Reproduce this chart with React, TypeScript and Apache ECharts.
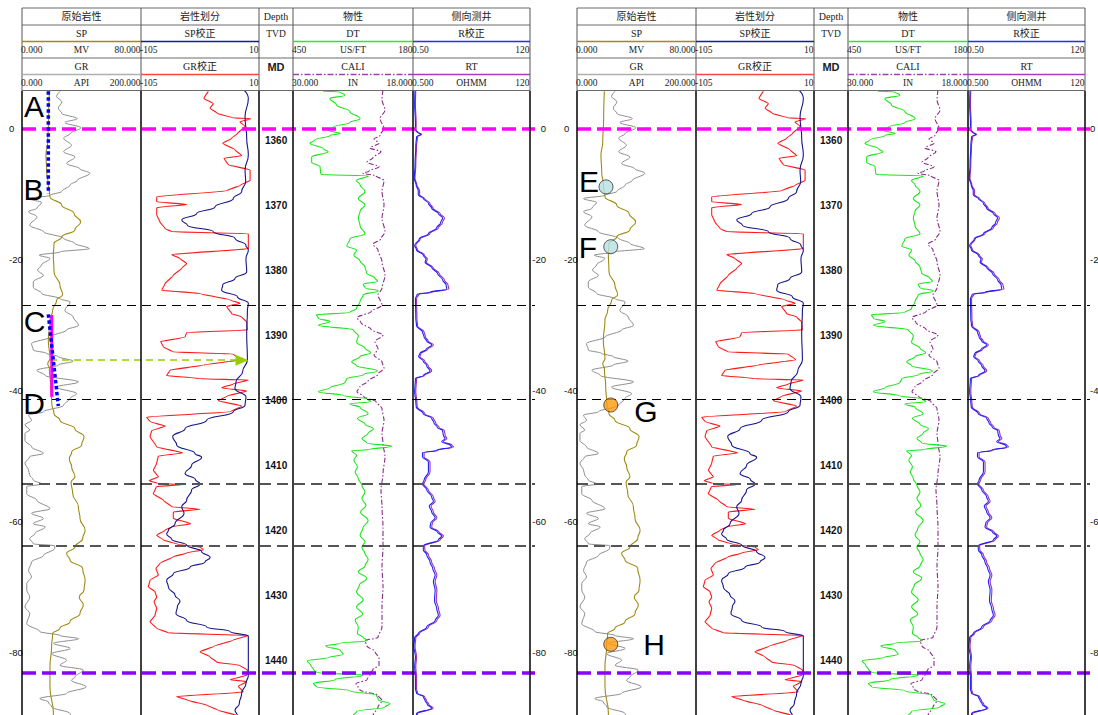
import React, { useEffect, useRef } from "react";
import * as echarts from "echarts";

// ---------------- well-log curves: [depth (m), value] ----------------
const GR = [[1352.5,64],[1353.3,58],[1354.1,67],[1355.1,61],[1355.9,67],[1356.7,93],[1357.3,72],[1358.1,99],[1359.0,81],[1359.7,70],[1360.8,83],[1361.8,70],[1362.6,89],[1363.6,75],[1364.4,97],[1365.1,114],[1366.2,93],[1366.9,81],[1367.9,67],[1368.5,47],[1369.0,11],[1369.6,33],[1370.5,25],[1371.0,11],[1371.8,25],[1373.1,13],[1374.1,36],[1375.1,70],[1375.9,89],[1376.7,113],[1377.2,64],[1377.7,29],[1378.2,47],[1379.2,33],[1380.0,26],[1380.8,36],[1381.8,19],[1382.6,19],[1383.6,33],[1384.4,64],[1384.9,81],[1386.2,72],[1387.2,86],[1388.5,95],[1389.2,75],[1390.3,47],[1391.3,16],[1392.3,19],[1392.8,41],[1393.3,61],[1394.0,86],[1394.6,61],[1395.4,25],[1396.2,39],[1397.2,95],[1398.0,58],[1399.0,92],[1399.7,81],[1400.8,70],[1401.8,36],[1402.3,11],[1403.1,16],[1403.8,5],[1404.6,13],[1405.1,5],[1406.2,5],[1407.2,16],[1408.2,36],[1408.7,13],[1409.7,5],[1410.8,11],[1411.5,13],[1412.3,19],[1412.9,33],[1413.3,8],[1414.4,8],[1415.4,25],[1416.7,47],[1417.4,16],[1418.2,36],[1419.0,19],[1419.5,39],[1420.5,22],[1421.3,13],[1422.1,19],[1422.4,55],[1422.8,55],[1423.9,36],[1424.9,16],[1426.2,11],[1427.2,16],[1428.2,8],[1429.2,8],[1430.3,13],[1431.8,5],[1432.8,13],[1434.4,8],[1435.6,30],[1436.2,64],[1436.7,95],[1437.4,53],[1438.2,81],[1439.0,50],[1440.0,75],[1440.8,64],[1441.5,103],[1442.6,89],[1443.1,83],[1444.1,108],[1445.1,75],[1445.9,30],[1446.4,44],[1447.2,50],[1448.2,81],[1449.2,90]];

const SP = [[1352.5,18.4],[1356.7,17.9],[1360.3,17.3],[1362.3,16.1],[1364.9,16.6],[1366.9,17.7],[1368.7,18.8],[1370.0,26.7],[1371.3,35.0],[1372.6,39.4],[1373.8,35.6],[1374.9,26.7],[1375.9,21.5],[1377.7,21.1],[1380.3,21.5],[1382.3,25.5],[1383.8,27.3],[1384.6,23.3],[1386.2,20.6],[1387.7,18.8],[1390.8,17.7],[1393.6,18.8],[1394.4,17.3],[1395.1,18.4],[1398.0,19.3],[1400.5,20.0],[1402.1,21.5],[1403.1,25.5],[1404.4,35.6],[1405.6,41.7],[1406.9,40.1],[1408.0,33.4],[1409.0,31.8],[1410.3,33.4],[1411.8,35.6],[1412.6,33.0],[1414.4,34.1],[1416.4,37.9],[1418.2,39.0],[1420.0,42.4],[1421.3,40.8],[1422.6,35.6],[1423.6,30.0],[1424.6,32.3],[1425.9,40.8],[1427.7,42.4],[1429.2,41.7],[1430.3,38.5],[1431.5,41.2],[1432.8,39.0],[1434.1,32.3],[1435.1,25.5],[1435.9,20.6],[1437.9,19.9],[1441.0,18.8],[1444.1,18.8],[1448.2,21.1],[1449.2,21.5]];

const SP_CORR = [[1352.3,-4.6],[1353.6,-0.4],[1356.4,-3.6],[1359.7,-2.0],[1362.3,-0.4],[1364.6,-3.6],[1366.4,-3.0],[1367.9,-6.9],[1369.0,-15.0],[1370.3,-32.9],[1371.3,-50.7],[1372.3,-65.3],[1373.1,-59.8],[1374.1,-34.5],[1375.1,-13.4],[1376.2,-2.7],[1376.9,-0.4],[1378.2,-2.7],[1380.3,-2.0],[1381.3,-13.4],[1382.3,-25.4],[1383.1,-26.4],[1384.1,-11.1],[1385.1,-0.4],[1386.2,-1.3],[1389.7,-2.0],[1393.8,-1.3],[1395.6,-5.9],[1397.2,-12.4],[1398.2,-13.4],[1399.5,-2.7],[1400.8,-3.6],[1401.8,-15.0],[1403.1,-41.0],[1404.4,-62.1],[1405.6,-74.1],[1406.9,-70.2],[1408.2,-52.4],[1408.8,-45.9],[1410.0,-55.6],[1411.3,-62.1],[1412.2,-52.0],[1412.9,-47.5],[1413.8,-55.6],[1415.4,-60.5],[1416.4,-65.3],[1417.4,-63.1],[1419.0,-71.8],[1420.0,-78.3],[1420.6,-80.0],[1421.4,-75.1],[1422.3,-60.5],[1423.3,-45.9],[1424.2,-37.7],[1424.9,-42.6],[1425.7,-57.2],[1426.7,-73.5],[1427.7,-80.0],[1428.8,-78.3],[1430.0,-71.8],[1430.9,-67.0],[1431.8,-69.6],[1432.8,-70.9],[1433.9,-60.5],[1434.9,-41.0],[1435.6,-18.2],[1436.3,-0.4],[1442.3,-0.4],[1443.6,-2.7],[1445.1,-6.9],[1446.7,-9.2],[1447.7,-13.4],[1448.5,-11.1],[1449.2,-12.0]];

const GR_CORR = [[1352.5,-39.4],[1353.6,-43.6],[1354.4,-34.5],[1355.1,-37.7],[1355.9,-30.6],[1356.6,-15.0],[1356.7,1.9],[1357.2,-8.5],[1357.9,-3.6],[1359.0,-11.0],[1359.7,-16.6],[1360.5,-25.4],[1361.5,-13.4],[1362.4,-6.9],[1362.8,-24.1],[1363.8,-19.9],[1364.6,1.3],[1366.2,1.3],[1366.9,-7.8],[1367.8,-21.5],[1368.7,-89.7],[1369.5,-89.7],[1369.9,-60.5],[1370.4,-89.7],[1371.5,-89.7],[1372.6,-86.5],[1373.6,-81.6],[1374.1,-75.1],[1374.4,-0.4],[1376.7,-0.4],[1377.6,-75.1],[1378.2,-67.0],[1379.0,-60.5],[1379.7,-65.3],[1380.8,-73.5],[1382.1,-81.6],[1383.1,-84.8],[1383.6,-47.5],[1384.6,-18.2],[1385.1,-8.5],[1385.6,-21.5],[1386.7,-16.6],[1387.2,-6.9],[1388.0,-2.0],[1389.2,-1.3],[1389.6,-60.5],[1390.3,-62.1],[1391.0,-85.8],[1391.8,-83.2],[1392.6,-73.5],[1392.9,-15.0],[1393.8,-7.8],[1394.6,-44.2],[1395.4,-76.7],[1396.2,-80.0],[1396.7,-47.5],[1396.9,-0.4],[1397.5,-15.0],[1398.1,-26.4],[1398.6,-2.0],[1399.4,-21.5],[1400.1,-29.6],[1400.9,-6.9],[1401.8,-18.2],[1402.6,-99.5],[1403.3,-96.2],[1404.0,-81.6],[1404.7,-94.6],[1405.6,-96.2],[1407.2,-89.7],[1408.1,-64.4],[1408.6,-88.1],[1409.7,-89.7],[1410.8,-92.9],[1411.8,-88.1],[1412.4,-97.0],[1412.8,-89.0],[1413.0,-65.3],[1413.3,-90.0],[1414.4,-93.0],[1415.4,-83.2],[1416.4,-75.1],[1416.8,-47.5],[1417.2,-73.5],[1418.2,-73.5],[1419.0,-56.6],[1419.5,-75.1],[1420.0,-81.6],[1420.8,-89.7],[1421.5,-83.2],[1422.2,-68.6],[1422.6,-47.5],[1423.0,-44.2],[1423.5,-60.5],[1424.1,-73.5],[1425.1,-86.5],[1425.9,-90.4],[1426.9,-88.1],[1427.7,-96.2],[1428.7,-97.8],[1429.5,-91.3],[1430.3,-89.7],[1431.0,-92.3],[1432.0,-89.7],[1433.1,-91.3],[1434.1,-96.2],[1435.1,-89.7],[1435.8,-78.3],[1436.2,-0.4],[1436.9,-15.0],[1437.9,-34.5],[1438.7,-47.5],[1439.5,-37.7],[1440.3,-31.2],[1440.8,-8.5],[1441.5,-1.3],[1442.3,-2.0],[1443.0,-18.2],[1443.3,-2.0],[1444.0,-10.1],[1444.9,-5.3],[1445.6,-70.2],[1446.2,-58.8],[1446.9,-41.0],[1447.7,-29.6],[1448.5,-11.8],[1449.2,-8.0]];

const DT = [[1352.5,382],[1352.6,344],[1353.1,333],[1353.6,367],[1354.6,352],[1355.6,322],[1356.7,299],[1357.3,322],[1358.0,359],[1358.5,371],[1359.0,344],[1359.3,367],[1360.0,401],[1360.5,412],[1361.3,382],[1361.8,371],[1362.6,408],[1363.4,408],[1364.1,389],[1365.0,388],[1365.3,386],[1365.5,280],[1366.2,307],[1366.9,299],[1367.9,288],[1369.0,303],[1370.0,288],[1370.9,299],[1372.0,303],[1373.2,299],[1374.4,288],[1375.2,322],[1376.3,329],[1376.9,307],[1377.7,313],[1378.6,299],[1379.5,288],[1380.5,284],[1381.2,266],[1381.7,260],[1382.2,292],[1382.7,288],[1383.2,258],[1383.8,292],[1384.8,299],[1385.9,307],[1386.5,322],[1386.9,397],[1387.4,393],[1387.9,367],[1388.5,393],[1389.2,314],[1390.1,303],[1391.1,307],[1392.0,288],[1392.7,275],[1393.3,299],[1394.1,318],[1394.7,307],[1395.5,260],[1396.1,292],[1396.7,329],[1397.3,333],[1398.1,367],[1398.7,393],[1399.3,337],[1399.8,284],[1400.2,275],[1400.6,322],[1401.1,299],[1402.1,281],[1402.8,305],[1403.7,288],[1404.4,269],[1405.1,281],[1405.9,295],[1406.6,284],[1407.1,228],[1407.6,277],[1407.8,318],[1408.5,307],[1409.2,313],[1410.3,305],[1411.0,310],[1412.1,303],[1413.1,295],[1414.1,288],[1415.1,295],[1416.2,286],[1417.2,298],[1418.5,281],[1419.7,293],[1420.8,299],[1421.8,288],[1422.6,295],[1423.6,288],[1424.5,281],[1425.5,288],[1426.4,303],[1427.4,284],[1428.5,301],[1429.5,307],[1430.7,292],[1431.8,307],[1432.9,293],[1433.8,310],[1434.9,303],[1435.9,305],[1436.5,292],[1437.0,283],[1437.4,344],[1437.8,376],[1438.5,343],[1439.1,337],[1439.6,370],[1440.1,418],[1440.8,410],[1441.4,404],[1441.9,397],[1442.3,292],[1443.0,356],[1443.6,404],[1444.1,397],[1444.7,322],[1445.4,262],[1446.1,258],[1446.7,232],[1447.2,243],[1447.9,307],[1448.5,314],[1449.2,320]];

const CALI = [[1352.3,21.0],[1353.8,21.1],[1355.4,20.8],[1356.7,21.3],[1358.2,20.9],[1359.3,21.3],[1359.8,21.9],[1360.5,21.4],[1361.2,22.3],[1361.8,21.2],[1362.7,22.0],[1363.4,22.6],[1364.1,21.4],[1364.8,22.4],[1365.1,23.0],[1365.5,21.7],[1366.2,20.9],[1367.9,21.1],[1370.0,20.9],[1372.0,21.1],[1374.1,20.8],[1375.2,21.2],[1376.0,22.0],[1376.9,21.5],[1378.7,21.1],[1380.8,20.8],[1382.8,21.1],[1383.8,21.5],[1385.4,21.1],[1386.4,22.2],[1387.3,23.6],[1388.1,23.2],[1389.1,22.2],[1390.0,21.0],[1391.0,21.8],[1392.1,21.5],[1393.1,21.9],[1394.1,21.1],[1395.1,20.9],[1396.0,21.5],[1397.1,22.5],[1397.9,23.3],[1398.7,23.6],[1399.5,22.9],[1400.2,21.7],[1401.3,21.1],[1403.1,20.9],[1405.1,21.1],[1406.7,21.0],[1408.7,20.8],[1411.3,21.0],[1413.8,21.2],[1416.4,21.1],[1419.5,21.0],[1422.6,21.0],[1425.6,21.1],[1428.7,21.0],[1431.8,21.1],[1434.9,21.1],[1436.5,21.5],[1437.0,22.8],[1437.8,22.6],[1438.7,21.8],[1439.7,21.4],[1440.8,21.4],[1441.4,22.0],[1442.2,22.3],[1443.0,22.6],[1443.6,23.7],[1444.6,23.3],[1445.4,21.5],[1446.2,21.1],[1447.2,21.5],[1448.5,22.0],[1449.2,22.2]];

const R_CORR = [[1352.3,0.55],[1354.6,0.54],[1357.2,0.56],[1358.5,0.56],[1358.8,0.61],[1359.1,0.72],[1359.5,0.59],[1360.8,0.57],[1363.8,0.55],[1365.9,0.53],[1366.9,0.58],[1367.8,0.64],[1368.4,0.64],[1369.0,0.81],[1369.7,1.03],[1370.5,1.20],[1371.3,1.64],[1372.0,2.00],[1372.7,1.82],[1373.5,1.52],[1374.4,1.03],[1375.2,0.67],[1376.2,0.54],[1376.9,0.59],[1377.7,0.81],[1378.3,0.92],[1378.8,0.88],[1379.6,1.20],[1380.5,1.57],[1381.5,2.00],[1382.3,2.36],[1382.9,2.43],[1383.4,1.11],[1383.7,0.61],[1384.4,0.56],[1387.4,0.57],[1388.6,0.59],[1389.5,0.78],[1390.3,0.84],[1390.9,0.95],[1391.5,1.20],[1392.2,0.92],[1392.8,0.69],[1393.3,0.65],[1394.0,0.81],[1394.7,0.95],[1395.5,1.11],[1396.2,0.81],[1396.7,0.56],[1398.7,0.54],[1400.3,0.57],[1401.0,0.58],[1402.1,0.81],[1402.8,1.20],[1403.5,1.34],[1404.2,1.57],[1404.7,2.00],[1405.4,2.07],[1405.9,2.24],[1406.4,1.92],[1406.9,2.83],[1407.2,3.06],[1407.7,1.52],[1408.1,0.78],[1408.7,0.78],[1409.5,1.03],[1411.0,1.03],[1412.3,0.84],[1412.9,0.78],[1413.8,0.95],[1414.9,1.20],[1415.6,1.30],[1416.3,1.07],[1417.2,1.20],[1418.1,1.41],[1418.9,1.15],[1419.5,1.11],[1420.3,1.57],[1420.9,1.92],[1421.5,1.64],[1422.4,0.81],[1423.0,0.81],[1423.8,0.95],[1424.9,1.11],[1425.9,1.26],[1426.9,1.41],[1427.9,1.30],[1429.2,1.41],[1430.8,1.37],[1432.1,1.52],[1433.1,1.64],[1433.9,1.41],[1434.9,0.95],[1435.9,0.64],[1436.5,0.54],[1437.9,0.52],[1439.5,0.56],[1441.0,0.54],[1442.6,0.56],[1444.4,0.56],[1445.1,0.59],[1445.6,0.81],[1446.2,0.88],[1446.8,0.98],[1447.4,1.20],[1448.2,0.59],[1449.2,0.57]];

const RT = [[1352.3,0.57],[1354.6,0.56],[1357.2,0.58],[1358.5,0.58],[1358.8,0.63],[1359.1,0.75],[1359.5,0.62],[1360.8,0.59],[1363.8,0.57],[1365.9,0.55],[1366.9,0.60],[1367.8,0.68],[1368.4,0.68],[1369.0,0.86],[1369.7,1.10],[1370.5,1.28],[1371.3,1.78],[1372.0,2.18],[1372.7,1.98],[1373.5,1.64],[1374.4,1.10],[1375.2,0.70],[1376.2,0.57],[1376.9,0.62],[1377.7,0.86],[1378.3,0.98],[1378.8,0.93],[1379.6,1.28],[1380.5,1.70],[1381.5,2.17],[1382.3,2.58],[1382.9,2.68],[1383.4,1.25],[1383.7,0.66],[1384.4,0.59],[1387.4,0.60],[1388.6,0.62],[1389.5,0.84],[1390.3,0.90],[1390.9,1.02],[1391.5,1.30],[1392.2,0.99],[1392.8,0.73],[1393.3,0.69],[1394.0,0.87],[1394.7,1.02],[1395.5,1.20],[1396.2,0.86],[1396.7,0.59],[1398.7,0.57],[1400.3,0.60],[1401.0,0.61],[1402.1,0.87],[1402.8,1.30],[1403.5,1.45],[1404.2,1.70],[1404.7,2.17],[1405.4,2.25],[1405.9,2.44],[1406.4,2.08],[1406.9,3.08],[1407.2,3.33],[1407.7,1.65],[1408.1,0.84],[1408.7,0.84],[1409.5,1.11],[1411.0,1.11],[1412.3,0.90],[1412.9,0.83],[1413.8,1.02],[1414.9,1.30],[1415.6,1.41],[1416.3,1.16],[1417.2,1.30],[1418.1,1.53],[1418.9,1.24],[1419.5,1.20],[1420.3,1.70],[1420.9,2.08],[1421.5,1.78],[1422.4,0.86],[1423.0,0.87],[1423.8,1.03],[1424.9,1.20],[1425.9,1.37],[1426.9,1.53],[1427.9,1.41],[1429.2,1.53],[1430.8,1.49],[1432.1,1.65],[1433.1,1.78],[1433.9,1.53],[1434.9,1.03],[1435.9,0.68],[1436.5,0.57],[1437.9,0.55],[1439.5,0.59],[1441.0,0.57],[1442.6,0.59],[1444.4,0.59],[1445.1,0.62],[1445.6,0.86],[1446.2,0.94],[1446.8,1.05],[1447.4,1.28],[1448.2,0.62],[1449.2,0.60]];

// ---------------- depth ranges / markers ----------------
const DEPTH_MIN = 1352.45;
const DEPTH_MAX = 1449.2;
const REL_MIN = -90.4;
const REL_MAX = 5.81;
const MARKER_DEPTHS = [1358.3, 1385.37, 1399.83, 1412.9, 1422.44, 1441.98];
const MARKER_KINDS = ["magenta", "black", "black", "gray", "gray", "purple"];

// ---------------- annotations ----------------
const AB_LINE = [[1352.5, 17.7], [1368.2, 17.7]]; // [depth, SP]
const CD_SOLID = [[1386.9, 20.0], [1399.5, 20.0]];
const CD_DOTTED = [[1386.8, 17.7], [1400.9, 24.4]];
const ARROW = { depth: 1393.85, from: 0.0546, to: 0.4288 }; // fraction of panel width
const CIRCLE_NAMES = ["E", "F", "G", "H"];
const CIRCLE_DEPTHS = [1367.2, 1376.4, 1400.75, 1437.56];
const CIRCLE_SP = [19.5, 22.7, 22.7, 22.7];
const CIRCLE_COLORS = ["#b6e0e3", "#b6e0e3", "#ff9a0a", "#ff9a0a"];

// header texts
const TRACK_TITLES = ["原始岩性", "岩性划分", "Depth", "物性", "侧向测井"];

const COLORS = {
  SP: "#a08c14",
  GR: "#8e8e8e",
  SPC: "#14148c",
  GRC: "#ff1a1a",
  DT: "#1ee61e",
  CALI: "#8a2a8a",
  RC: "#2020ff",
  RT: "#9a34b0",
};

const HEAD_TOP = [
  { col: 0, name: "SP", l: "0.000", u: "MV", r: "80.000", color: COLORS.SP },
  { col: 1, name: "SP校正", l: "-105", u: "", r: "10", color: "#1a1aa0" },
  { col: 3, name: "DT", l: "450", u: "US/FT", r: "180", color: "#22ee22" },
  { col: 4, name: "R校正", l: "0.50", u: "", r: "120", color: "#2a2aff" },
];
const HEAD_BOTTOM = [
  { col: 0, name: "GR", l: "0.000", u: "API", r: "200.000", color: "#b0b0b0" },
  { col: 1, name: "GR校正", l: "-105", u: "", r: "10", color: "#ff4444" },
  { col: 3, name: "CALI", l: "30.000", u: "IN", r: "18.000", color: "#a040b0", dash: true },
  { col: 4, name: "RT", l: "0.500", u: "OHMM", r: "120", color: "#a040c0" },
];

// ---------------- layout ----------------
const PANEL_X = [22, 577];
const EDGES = [0, 119, 237, 271, 391, 508];
const TOP = 91;
const H = 629;
const SERIF = "'Liberation Serif','Noto Sans CJK SC',serif";
const SANS = "'Liberation Sans',Arial,sans-serif";

const toXY = (arr: number[][]) => arr.map(([d, v]) => [v, d]);

function headerGraphics(x0: number) {
  const els: any[] = [];
  const line = (x1: number, y1: number, x2: number, y2: number, stroke: string, lw: number, dash?: number[]) =>
    els.push({ type: "line", silent: true, z: 10, shape: { x1, y1, x2, y2 }, style: { stroke, lineWidth: lw, lineDash: dash } });
  const text = (x: number, y: number, t: string, align: string, size = 9.5, family = SERIF, weight = "normal") =>
    els.push({
      type: "text", silent: true, z: 10, x, y,
      style: { text: t, fill: "#222", fontSize: size, fontFamily: family, fontWeight: weight, textAlign: align, textVerticalAlign: "middle", align, verticalAlign: "middle" },
    });
  const W = EDGES[5];
  [8, 25, 58, 90.5].forEach((y) => line(x0, y, x0 + W, y, "#6a6a6a", 1));
  EDGES.forEach((e) => line(x0 + e, 8, x0 + e, 91, "#555", 1));
  TRACK_TITLES.forEach((t, i) => text(x0 + (EDGES[i] + EDGES[i + 1]) / 2, 16.5, t, "center", 10));
  const rows = [
    { items: HEAD_TOP, yName: 33.5, yLine: 41.5, yScale: 49.5 },
    { items: HEAD_BOTTOM, yName: 66.5, yLine: 74.5, yScale: 82.5 },
  ];
  rows.forEach((row) => {
    row.items.forEach((it: any) => {
      const a = x0 + EDGES[it.col];
      const b = x0 + EDGES[it.col + 1];
      text((a + b) / 2, row.yName, it.name, "center", 10);
      line(a, row.yLine, b, row.yLine, it.color, 1.6, it.dash ? [6, 2, 1.5, 2] : undefined);
      text(a - 1, row.yScale, it.l, "left");
      if (it.u) text((a + b) / 2, row.yScale, it.u, "center");
      text(b - 0.5, row.yScale, it.r, "right");
    });
  });
  const dc = x0 + (EDGES[2] + EDGES[3]) / 2;
  text(dc, 33.5, "TVD", "center", 9.5);
  text(dc, 66.5, "MD", "center", 11, SANS, "bold");
  // track borders in data area
  EDGES.forEach((e) => line(x0 + e, 91, x0 + e, 715, "#000", 1.5));
  return els;
}

function letter(x: number, y: number, t: string) {
  return {
    type: "text", silent: true, z: 100, x, y,
    style: { text: t, fill: "#000", fontSize: 30, fontFamily: SANS, textAlign: "center", textVerticalAlign: "middle", align: "center", verticalAlign: "middle" },
  };
}

function buildOption() {
  const grids: any[] = [];
  const xAxes: any[] = [];
  const yAxes: any[] = [];
  const series: any[] = [];
  const addX = (o: any) => { xAxes.push({ type: "value", show: false, ...o }); return xAxes.length - 1; };
  const addY = (o: any) => { yAxes.push(o); return yAxes.length - 1; };
  const depthY = (g: number) => addY({ type: "value", gridIndex: g, min: DEPTH_MIN, max: DEPTH_MAX, inverse: true, show: false });
  const relFmt = (v: number) => { const r = Math.round(v); return Math.abs(v - r) < 1e-6 && r % 20 === 0 ? String(r === 0 ? 0 : r) : ""; };
  const relY = (g: number, position: string, margin: number, align: string) => addY({
    type: "value", gridIndex: g, position, min: REL_MIN, max: REL_MAX, splitNumber: 5,
    axisLine: { show: false }, axisTick: { show: false }, splitLine: { show: false },
    axisLabel: { show: true, margin, align, fontSize: 9.5, color: "#111", fontFamily: SANS, backgroundColor: "#fff", padding: [1, 1], formatter: relFmt },
  });
  const curve = (data: number[][], xi: number, yi: number, color: string, width: number, smooth: any, type: any = "solid") => series.push({
    type: "line", data: toXY(data), xAxisIndex: xi, yAxisIndex: yi, symbol: "none", showSymbol: false, silent: true,
    smooth, smoothMonotone: "y", lineStyle: { color, width, type }, z: 2,
  });
  const lineStyles: any = {
    magenta: { color: "#ff00ff", width: 3.5, type: [14, 6] },
    purple: { color: "#8a00ff", width: 3.5, type: [14, 6] },
    black: { color: "#000", width: 1, type: [9, 6] },
    gray: { color: "#555", width: 1.8, type: [11, 6] },
  };
  const PANEL_W = 513;

  PANEL_X.forEach((x0, p) => {
    const base = p * 6;
    for (let k = 0; k < 5; k++) {
      grids.push({ left: x0 + EDGES[k], top: TOP, width: EDGES[k + 1] - EDGES[k], height: H, show: false, outerBoundsMode: "none", containLabel: false });
    }
    grids.push({ left: x0, top: TOP, width: PANEL_W, height: H, show: false, outerBoundsMode: "none", containLabel: false });

    const xGR = addX({ gridIndex: base, min: 0, max: 200 });
    const xSP = addX({ gridIndex: base, min: 0, max: 80 });
    const xC2 = addX({ gridIndex: base + 1, min: -105, max: 10 });
    addX({ gridIndex: base + 2, min: 0, max: 1 });
    const xDT = addX({ gridIndex: base + 3, min: 180, max: 450, inverse: true });
    const xCA = addX({ gridIndex: base + 3, min: 18, max: 30, inverse: true });
    const xR = addX({ type: "log", gridIndex: base + 4, min: 0.5, max: 120, logBase: 10 });
    const xO = addX({ gridIndex: base + 5, min: 0, max: 1 });

    const y1 = depthY(base);
    const y2 = depthY(base + 1);
    addY({
      type: "value", gridIndex: base + 2, min: DEPTH_MIN, max: DEPTH_MAX, inverse: true, splitNumber: 10,
      axisLine: { show: false }, axisTick: { show: false }, splitLine: { show: false },
      axisLabel: {
        inside: true, margin: 6, fontSize: 10, fontWeight: "bold", color: "#111", fontFamily: SANS,
        formatter: (v: number) => { const r = Math.round(v); return Math.abs(v - r) < 1e-6 && r % 10 === 0 ? String(r) : ""; },
      },
    });
    const y4 = depthY(base + 3);
    const y5 = depthY(base + 4);
    const yO = depthY(base + 5);
    relY(base, "left", 14, "left");
    if (p === 0) relY(base + 4, "right", 17, "right");
    else relY(base + 4, "right", 4, "left");

    curve(GR, xGR, y1, COLORS.GR, 1, 0.35);
    curve(SP, xSP, y1, COLORS.SP, 1.1, 0.5);
    curve(GR_CORR, xC2, y2, COLORS.GRC, 1.1, 0.15);
    curve(SP_CORR, xC2, y2, COLORS.SPC, 1.1, 0.5);
    curve(CALI, xCA, y4, COLORS.CALI, 1.1, 0.3, [5, 2, 1.5, 2]);
    curve(DT, xDT, y4, COLORS.DT, 1.1, 0.4);
    curve(RT, xR, y5, COLORS.RT, 1.1, 0.4);
    curve(R_CORR, xR, y5, COLORS.RC, 1.1, 0.4);

    // horizontal marker lines across the panel
    series.push({
      type: "scatter", xAxisIndex: xO, yAxisIndex: yO, data: [[0.5, 1400]], symbolSize: 0, silent: true, z: 5,
      markLine: {
        silent: true, symbol: "none", animation: false, label: { show: false },
        data: MARKER_DEPTHS.map((d, i) => ({ yAxis: d, lineStyle: lineStyles[MARKER_KINDS[i]] })),
      },
    });

    if (p === 0) {
      const dotted = { color: "#0000ff", width: 3.5, type: [3.5, 2.5] };
      series.push({ type: "line", data: toXY(CD_SOLID), xAxisIndex: xSP, yAxisIndex: y1, symbol: "none", silent: true, z: 6, lineStyle: { color: "#ff00ff", width: 3 } });
      series.push({ type: "line", data: toXY(AB_LINE), xAxisIndex: xSP, yAxisIndex: y1, symbol: "none", silent: true, z: 7, lineStyle: dotted });
      series.push({ type: "line", data: toXY(CD_DOTTED), xAxisIndex: xSP, yAxisIndex: y1, symbol: "none", silent: true, z: 7, lineStyle: dotted });
      series.push({
        type: "scatter", xAxisIndex: xO, yAxisIndex: yO, data: [[0.5, 1400]], symbolSize: 0, silent: true, z: 8,
        markLine: {
          silent: true, symbol: ["none", "triangle"], symbolSize: [11, 13], animation: false, label: { show: false },
          lineStyle: { color: "#99cc00", width: 1.6, type: [7, 5] },
          data: [[{ coord: [ARROW.from, ARROW.depth] }, { coord: [ARROW.to, ARROW.depth] }]],
        },
      });
    } else {
      series.push({
        type: "scatter", xAxisIndex: xSP, yAxisIndex: y1, symbolSize: 14, silent: true, z: 9,
        data: CIRCLE_NAMES.map((n, i) => ({ name: n, value: [CIRCLE_SP[i], CIRCLE_DEPTHS[i]], itemStyle: { color: CIRCLE_COLORS[i], borderColor: "#333", borderWidth: 1 } })),
      });
    }
  });

  const graphic: any[] = [
    ...headerGraphics(PANEL_X[0]),
    ...headerGraphics(PANEL_X[1]),
    letter(34, 106, "A"), letter(33.5, 189, "B"), letter(34.5, 321, "C"), letter(34, 403, "D"),
    letter(589, 181.5, "E"), letter(588, 247, "F"), letter(646, 411, "G"), letter(654, 644, "H"),
  ];

  return { animation: false, backgroundColor: "#fff", grid: grids, xAxis: xAxes, yAxis: yAxes, series, graphic };
}

export default function App() {
  const ref = useRef<HTMLDivElement>(null);
  useEffect(() => {
    if (!ref.current) return;
    const chart = echarts.init(ref.current, null, { renderer: "svg", width: 1098, height: 715 });
    chart.setOption(buildOption() as any);
    return () => chart.dispose();
  }, []);
  return <div ref={ref} style={{ position: "fixed", left: 0, top: 0, width: 1098, height: 715, background: "#fff" }} />;
}
